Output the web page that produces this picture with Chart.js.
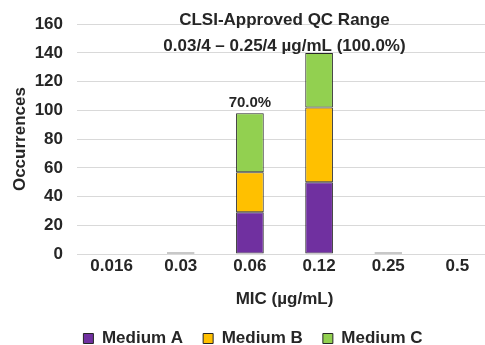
<!DOCTYPE html>
<html>
<head>
<meta charset="utf-8">
<script src="https://cdn.jsdelivr.net/npm/chart.js@4/dist/chart.umd.min.js"></script>
<style>
  html, body { margin: 0; padding: 0; background: #fff; overflow: hidden; }
  .wrap { position: relative; width: 493px; height: 345px; }
</style>
</head>
<body>
<div class="wrap"><canvas id="myChart"></canvas></div>
<script>
const micLabels = ['0.016', '0.03', '0.06', '0.12', '0.25', '0.5'];
const mediumA = [0, 1, 29, 50, 1, 0];
const mediumB = [0, 0, 28, 52, 0, 0];
const mediumC = [0, 0, 41, 38, 0, 0];
const yTicks = [0, 20, 40, 60, 80, 100, 120, 140, 160];
const rangeTitle = ['CLSI-Approved QC Range', '0.03/4 \u2013 0.25/4 \u00b5g/mL (100.0%)'];
const modeLabel = { category: '0.06', text: '70.0%' };

const font = 'Liberation Sans, Arial, sans-serif';
const ink = '#262626';

// text drawn over the plot: range title + percent above the modal bar
const notes = {
    id: 'notes',
    afterDatasetsDraw(chart) {
        const ctx = chart.ctx, x = chart.scales.x, y = chart.scales.y;
        ctx.save();
        ctx.fillStyle = ink;
        ctx.textAlign = 'center';
        ctx.textBaseline = 'alphabetic';
        ctx.font = 'bold 17px ' + font;
        const mid = (x.getPixelForValue(2) + x.getPixelForValue(3)) / 2;
        ctx.fillText(rangeTitle[0], mid, 25);
        ctx.fillText(rangeTitle[1], mid, 51);

        const i = micLabels.indexOf(modeLabel.category);
        const top = mediumA[i] + mediumB[i] + mediumC[i];
        ctx.font = 'bold 15px ' + font;
        ctx.fillText(modeLabel.text, x.getPixelForValue(i), y.getPixelForValue(top) - 6);
        ctx.restore();
    }
};

const data = {
    labels: micLabels,
    datasets: [
        { label: 'Medium A', data: mediumA, backgroundColor: '#7030A0' },
        { label: 'Medium B', data: mediumB, backgroundColor: '#FFC000' },
        { label: 'Medium C', data: mediumC, backgroundColor: '#92D050' },
    ].map(d => Object.assign(d, {
        borderColor: ink,
        borderWidth: 1,
        borderSkipped: false,
        barPercentage: 0.4,
        categoryPercentage: 1.0
    }))
};

const config = {
    type: 'bar',
    data: data,
    plugins: [notes],
    options: {
        responsive: true,
        maintainAspectRatio: false,
        animation: false,
        layout: { padding: { top: 14, right: 1, bottom: -12, left: 14 } },
        plugins: {
            tooltip: { enabled: false },
            legend: {
                position: 'bottom',
                labels: {
                    boxWidth: 10,
                    boxHeight: 10,
                    padding: 20,
                    color: ink,
                    font: { family: font, size: 17, weight: 'bold' }
                }
            }
        },
        scales: {
            x: {
                stacked: true,
                grid: { display: false, drawTicks: false },
                border: { display: true, color: '#d9d9d9', width: 1 },
                ticks: { color: ink, padding: 2, font: { family: font, size: 17, weight: 'bold' } },
                title: {
                    display: true,
                    text: 'MIC (\u00b5g/mL)',
                    color: ink,
                    padding: { top: 14, bottom: 0 },
                    font: { family: font, size: 17, weight: 'bold' }
                },
                afterFit: s => { s.height = 56; }
            },
            y: {
                stacked: true,
                min: 0,
                max: 160,
                afterBuildTicks: s => { s.ticks = yTicks.map(v => ({ value: v })); },
                grid: { color: '#d9d9d9', drawTicks: false },
                border: { display: false },
                ticks: { color: ink, padding: 14, font: { family: font, size: 17, weight: 'bold' } },
                title: {
                    display: true,
                    text: 'Occurrences',
                    color: ink,
                    padding: { top: -4, bottom: 0 },
                    font: { family: font, size: 17, weight: 'bold' }
                },
                afterFit: s => { s.width = 63; }
            }
        }
    }
};

let myChart = new Chart(document.querySelector('#myChart'), config);
</script>
</body>
</html>
